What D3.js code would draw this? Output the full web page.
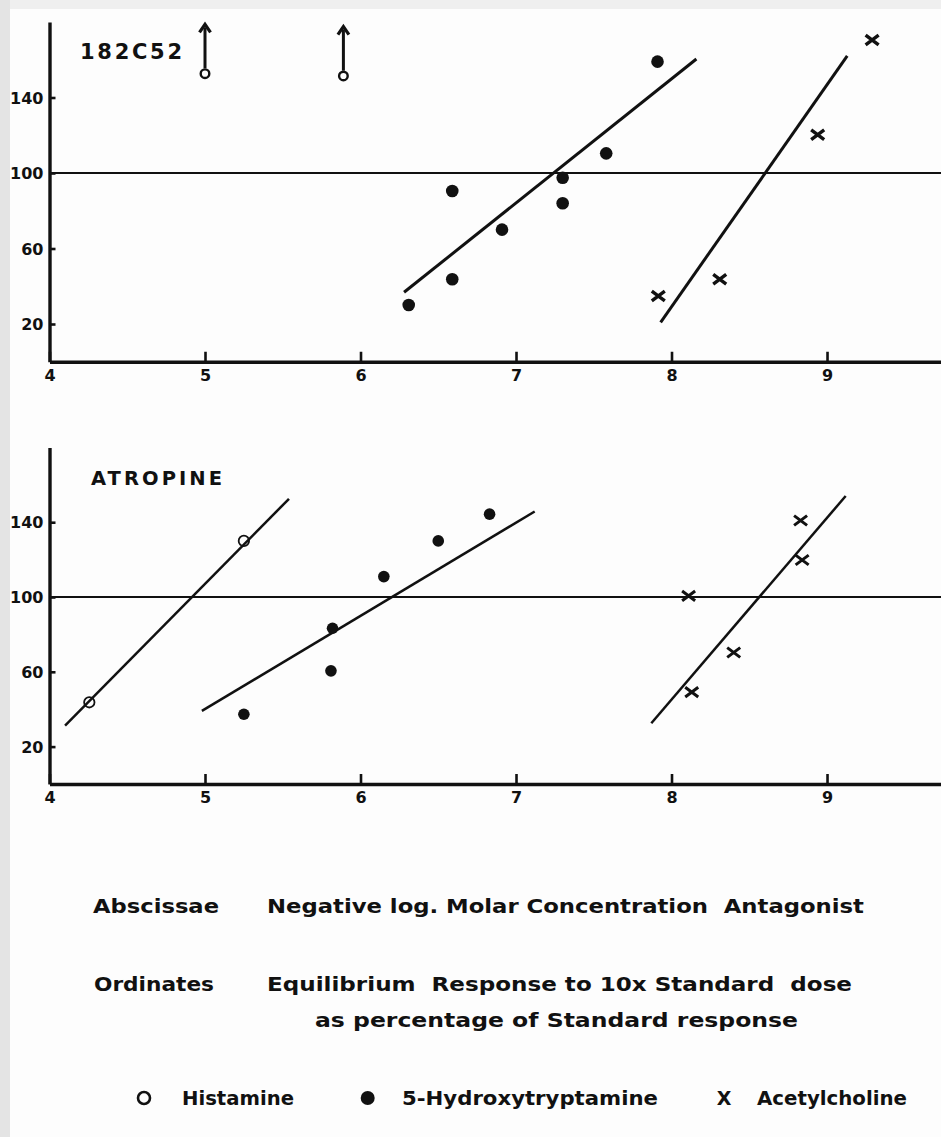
<!DOCTYPE html>
<html>
<head>
<meta charset="utf-8">
<script src="https://cdn.jsdelivr.net/npm/d3@7"></script>
<style>
  html, body { margin: 0; padding: 0; background: #fdfdfd; }
  svg { display: block; }
  text { font-family: "DejaVu Sans", sans-serif; fill: #111; white-space: pre; }
</style>
</head>
<body>
<svg id="chart" width="941" height="1137"></svg>
<script>
// ---------------- DATA ----------------
const xTickValues = [4, 5, 6, 7, 8, 9];
const yTickValues = [20, 60, 100, 140];
const referenceLevel = 100;

// Top panel: 182C52
const topHistamine = [[5.0, 152.6], [5.89, 151.4]];           // open circles (with arrows: response above range)
const topSerotonin = [[6.31, 30.1], [6.59, 90.5], [6.59, 43.7], [6.91, 70], [7.30, 97.5], [7.30, 84], [7.58, 110.4], [7.91, 159]];
const topAcetylcholine = [[7.915, 34.8], [8.31, 43.7], [8.94, 120.3], [9.29, 170.5]];
const topSerotoninFit = [[6.28, 36.8], [8.16, 160.4]];
const topAcetylcholineFit = [[7.93, 20.9], [9.13, 162]];

// Bottom panel: Atropine
const botHistamine = [[4.256, 43.7], [5.25, 130]];
const botSerotonin = [[5.25, 37.3], [5.81, 60.5], [5.82, 83.3], [6.15, 110.9], [6.50, 130], [6.83, 144.3]];
const botAcetylcholine = [[8.11, 100.6], [8.13, 49.1], [8.40, 70.3], [8.83, 140.9], [8.84, 119.8]];
const botHistamineFit = [[4.10, 31.2], [5.54, 152.5]];
const botSerotoninFit = [[4.98, 39.1], [7.12, 145.7]];
const botAcetylcholineFit = [[7.87, 32.5], [9.12, 154]];

const panelTitles = ["182C52", "ATROPINE"];
const legendLabels = ["Histamine", "5-Hydroxytryptamine", "Acetylcholine"];
const captionLines = [
  ["Abscissae", "Negative log. Molar Concentration  Antagonist"],
  ["Ordinates", "Equilibrium  Response to 10x Standard  dose"],
  ["", "as percentage of Standard response"]
];

// ---------------- DRAW ----------------
const W = 941, H = 1137;
const INK = "#111";
const svg = d3.select("#chart");

// paper background + scanned edges
svg.append("rect").attr("width", W).attr("height", H).attr("fill", "#fdfdfd");
svg.append("rect").attr("x", 0).attr("y", 0).attr("width", W).attr("height", 9).attr("fill", "#efefef");
svg.append("rect").attr("x", 0).attr("y", 0).attr("width", 10).attr("height", H).attr("fill", "#e4e4e4");

const x = d3.scaleLinear().domain([4, 9.733]).range([49.5, 941]);

function styleTickText(sel) {
  sel.attr("font-size", 16).attr("font-weight", "bold").attr("fill", INK)
    .attr("font-family", "DejaVu Sans");
}

function drawPanel(cfg) {
  const y = d3.scaleLinear().domain([0, 180]).range([cfg.y0, cfg.y0 - 180 * cfg.k]);
  const g = svg.append("g");

  // x axis
  const xa = g.append("g").attr("transform", `translate(0,${y(0)})`)
    .call(d3.axisBottom(x).tickValues(xTickValues).tickFormat(d3.format("d"))
      .tickSize(-10).tickSizeOuter(0).tickPadding(8));
  xa.select(".domain").attr("stroke", INK).attr("stroke-width", 3.4);
  xa.selectAll(".tick line").attr("stroke", INK).attr("stroke-width", 2.6);
  styleTickText(xa.selectAll(".tick text"));

  // y axis
  const ya = g.append("g").attr("transform", `translate(${x(4)},0)`)
    .call(d3.axisLeft(y).tickValues(yTickValues).tickFormat(d3.format("d"))
      .tickSize(-6).tickSizeOuter(0).tickPadding(6));
  ya.select(".domain").attr("stroke", INK).attr("stroke-width", 3.4);
  ya.selectAll(".tick line").attr("stroke", INK).attr("stroke-width", 2.6);
  styleTickText(ya.selectAll(".tick text"));
  ya.selectAll(".tick text").attr("dy", "0.36em");

  // 100% reference line
  g.append("line")
    .attr("x1", x(4)).attr("x2", W)
    .attr("y1", y(referenceLevel)).attr("y2", y(referenceLevel))
    .attr("stroke", INK).attr("stroke-width", 2.2);

  // fitted lines
  const line = d3.line().x(d => x(d[0])).y(d => y(d[1]));
  cfg.fits.forEach(f => {
    g.append("path").attr("d", line(f)).attr("fill", "none")
      .attr("stroke", INK).attr("stroke-width", cfg.fitWidth).attr("stroke-linecap", "butt");
  });

  // histamine open circles
  g.selectAll(null).data(cfg.hist).join("circle")
    .attr("cx", d => x(d[0])).attr("cy", d => y(d[1]))
    .attr("r", cfg.openR).attr("fill", "none").attr("stroke", INK).attr("stroke-width", cfg.openW);

  if (cfg.arrows) {
    const arrowLen = 44;
    cfg.hist.forEach(d => {
      const cx = x(d[0]), cy = y(d[1]) - cfg.openR - 1;
      g.append("line").attr("x1", cx).attr("x2", cx).attr("y1", cy).attr("y2", cy - arrowLen + 3)
        .attr("stroke", INK).attr("stroke-width", 3);
      g.append("path").attr("d", `M${cx - 5.5},${cy - arrowLen + 8} L${cx},${cy - arrowLen} L${cx + 5.5},${cy - arrowLen + 8}`)
        .attr("fill", "none").attr("stroke", INK).attr("stroke-width", 3.2).attr("stroke-linejoin", "miter");
    });
  }

  // 5-HT filled circles
  g.selectAll(null).data(cfg.sero).join("circle")
    .attr("cx", d => x(d[0])).attr("cy", d => y(d[1]))
    .attr("r", cfg.dotR).attr("fill", INK);

  // acetylcholine crosses
  const s = cfg.crossS;
  g.selectAll(null).data(cfg.ach).join("path")
    .attr("d", d => {
      const cx = x(d[0]), cy = y(d[1]);
      return `M${cx - s},${cy - s * 0.75} L${cx + s},${cy + s * 0.75} M${cx - s},${cy + s * 0.75} L${cx + s},${cy - s * 0.75}`;
    })
    .attr("stroke", INK).attr("stroke-width", cfg.crossW).attr("fill", "none");

  // panel title
  g.append("text").text(cfg.title)
    .attr("x", cfg.titleX).attr("y", cfg.titleY)
    .attr("font-size", cfg.titleSize).attr("font-weight", "bold")
    .attr("textLength", cfg.titleLen).attr("lengthAdjust", "spacing");
}

drawPanel({
  y0: 361.75, k: 1.8875, title: panelTitles[0], titleX: 80, titleY: 58.5, titleLen: 102, titleSize: 21,
  hist: topHistamine, sero: topSerotonin, ach: topAcetylcholine,
  fits: [topSerotoninFit, topAcetylcholineFit], fitWidth: 3,
  openR: 4.3, openW: 2.4, dotR: 6.3, crossS: 6.5, crossW: 3.4, arrows: true
});

drawPanel({
  y0: 784, k: 1.87, title: panelTitles[1], titleX: 91, titleY: 484.5, titleLen: 131, titleSize: 19.5,
  hist: botHistamine, sero: botSerotonin, ach: botAcetylcholine,
  fits: [botHistamineFit, botSerotoninFit, botAcetylcholineFit], fitWidth: 2.5,
  openR: 5.2, openW: 1.8, dotR: 5.8, crossS: 6.5, crossW: 3, arrows: false
});

// ---------------- CAPTIONS ----------------
const capSize = 19;
const capLayout = [
  { y: 913, left: [93, 126], right: [267, 597] },
  { y: 991, left: [94, 120], right: [267, 585] },
  { y: 1027, left: [0, 0], right: [315, 483] }
];
captionLines.forEach((ln, i) => {
  const L = capLayout[i];
  if (ln[0]) {
    svg.append("text").text(ln[0]).attr("x", L.left[0]).attr("y", L.y)
      .attr("font-size", capSize).attr("font-weight", "bold")
      .attr("textLength", L.left[1]).attr("lengthAdjust", "spacingAndGlyphs");
  }
  svg.append("text").text(ln[1]).attr("x", L.right[0]).attr("y", L.y)
    .attr("font-size", capSize).attr("font-weight", "bold")
    .attr("textLength", L.right[1]).attr("lengthAdjust", "spacingAndGlyphs");
});

// ---------------- LEGEND ----------------
const legY = 1098;
const legLayout = [
  { sx: 144, tx: 182, tl: 112 },
  { sx: 367.7, tx: 402, tl: 256 },
  { sx: 724, tx: 757, tl: 150 }
];
// symbols
svg.append("circle").attr("cx", legLayout[0].sx).attr("cy", legY).attr("r", 6)
  .attr("fill", "none").attr("stroke", INK).attr("stroke-width", 2.6);
svg.append("circle").attr("cx", legLayout[1].sx).attr("cy", legY).attr("r", 7).attr("fill", INK);
svg.append("text").text("X").attr("x", legLayout[2].sx).attr("y", legY + 7)
  .attr("text-anchor", "middle").attr("font-size", capSize).attr("font-weight", "bold");
legendLabels.forEach((lab, i) => {
  svg.append("text").text(lab).attr("x", legLayout[i].tx).attr("y", 1105)
    .attr("font-size", capSize).attr("font-weight", "bold")
    .attr("textLength", legLayout[i].tl).attr("lengthAdjust", "spacingAndGlyphs");
});
</script>
</body>
</html>
